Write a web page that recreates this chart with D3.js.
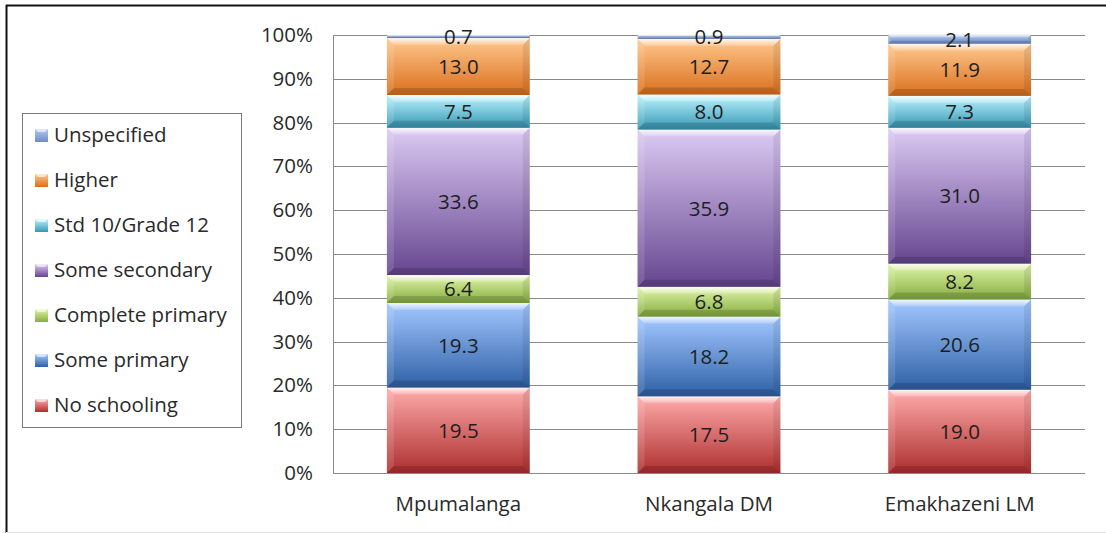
<!DOCTYPE html>
<html>
<head>
<meta charset="utf-8">
<script src="https://cdn.jsdelivr.net/npm/d3@7"></script>
<style>
  html, body { margin: 0; padding: 0; background: #fff; }
  svg { display: block; font-family: "Open Sans", sans-serif; }
</style>
</head>
<body>
<svg id="chart" width="1106" height="533"></svg>
<script>
// Education level shares (%) by area
const categories = ["Mpumalanga", "Nkangala DM", "Emakhazeni LM"];
const seriesNames = ["No schooling", "Some primary", "Complete primary", "Some secondary",
                     "Std 10/Grade 12", "Higher", "Unspecified"];
const noSchooling      = [19.5, 17.5, 19.0];
const somePrimary      = [19.3, 18.2, 20.6];
const completePrimary  = [6.4, 6.8, 8.2];
const someSecondary    = [33.6, 35.9, 31.0];
const std10Grade12     = [7.5, 8.0, 7.3];
const higher           = [13.0, 12.7, 11.9];
const unspecified      = [0.7, 0.9, 2.1];
const yTicks = [0, 10, 20, 30, 40, 50, 60, 70, 80, 90, 100];

const seriesValues = [noSchooling, somePrimary, completePrimary, someSecondary,
                      std10Grade12, higher, unspecified];

// top / bottom gradient colours for each series
const palette = [
  ["#ffabab", "#ad2f2e"],
  ["#a3c8ff", "#2e60a6"],
  ["#e0f5aa", "#86ad3f"],
  ["#dccaf3", "#65458f"],
  ["#bdf4ff", "#3597b4"],
  ["#ffc88e", "#d96f1c"],
  ["#b3c8ec", "#6d8dc4"]
];

const FONT = "'Open Sans', sans-serif";
const FS = 20.5;

const table = categories.map((c, i) => {
  const row = { category: c };
  seriesNames.forEach((s, j) => row[s] = seriesValues[j][i]);
  return row;
});

const svg = d3.select("#chart");
const defs = svg.append("defs");

palette.forEach((p, j) => {
  const g = defs.append("linearGradient").attr("id", "grad" + j)
    .attr("x1", 0).attr("y1", 0).attr("x2", 0).attr("y2", 1);
  g.append("stop").attr("offset", "0%").attr("stop-color", p[0]);
  g.append("stop").attr("offset", "100%").attr("stop-color", p[1]);
});
const hl = defs.append("linearGradient").attr("id", "hilite")
  .attr("x1", 0).attr("y1", 0).attr("x2", 0).attr("y2", 1);
hl.append("stop").attr("offset", "0%").attr("stop-color", "#fff").attr("stop-opacity", 0.85);
hl.append("stop").attr("offset", "100%").attr("stop-color", "#fff").attr("stop-opacity", 0.15);

// outer frame
svg.append("line").attr("x1", 6).attr("x2", 1106).attr("y1", 5.5).attr("y2", 5.5)
  .attr("stroke", "#111").attr("stroke-width", 2);
svg.append("line").attr("x1", 6.5).attr("x2", 6.5).attr("y1", 5).attr("y2", 533)
  .attr("stroke", "#111").attr("stroke-width", 2);
svg.append("line").attr("x1", 6).attr("x2", 1106).attr("y1", 532.5).attr("y2", 532.5)
  .attr("stroke", "#e4e4e4").attr("stroke-width", 1);

const plot = { left: 333, right: 1085, top: 35, bottom: 473 };

const x = d3.scaleBand().domain(categories)
  .range([plot.left, plot.right]).paddingInner(0.43).paddingOuter(0.215);
const y = d3.scaleLinear().domain([0, 100]).range([plot.bottom, plot.top]);

// gridlines
svg.append("g").selectAll("line").data(yTicks).join("line")
  .attr("x1", plot.left).attr("x2", plot.right)
  .attr("y1", d => Math.round(y(d)) + 0.5).attr("y2", d => Math.round(y(d)) + 0.5)
  .attr("stroke", "#8a8a8a").attr("stroke-width", 1);
svg.append("line").attr("x1", plot.left + 0.5).attr("x2", plot.left + 0.5)
  .attr("y1", plot.top).attr("y2", plot.bottom + 0.5)
  .attr("stroke", "#8a8a8a");

// y axis labels
const yAxis = d3.axisLeft(y).tickValues(yTicks).tickFormat(d => d + "%").tickSize(0).tickPadding(20);
const yg = svg.append("g").attr("transform", `translate(${plot.left},0)`).call(yAxis);
yg.select(".domain").remove();
yg.selectAll("text").attr("font-family", FONT).attr("font-size", FS)
  .attr("fill", "#2a2a2a");

// x axis labels
const xAxis = d3.axisBottom(x).tickSize(0).tickPadding(0);
const xg = svg.append("g").attr("transform", `translate(0,${plot.bottom + 23})`).call(xAxis);
xg.select(".domain").remove();
xg.selectAll("text").attr("font-family", FONT).attr("font-size", FS)
  .attr("fill", "#2a2a2a");

// stacked bars
const stacked = d3.stack().keys(seriesNames)(table);
const layers = svg.append("g").selectAll("g").data(stacked).join("g");

layers.each(function(layer, j) {
  const g = d3.select(this);
  layer.forEach(seg => {
    const x0 = x(seg.data.category), w = x.bandwidth();
    const yTop = y(Math.min(seg[1], 100.4)), yBot = y(seg[0]);
    const h = yBot - yTop;
    g.append("rect").attr("x", x0).attr("y", yTop).attr("width", w).attr("height", h)
      .attr("fill", `url(#grad${j})`);
    const b = Math.min(7, h / 3);
    // bevel highlight along top edge
    g.append("path")
      .attr("d", `M${x0},${yTop}H${x0 + w}L${x0 + w - b},${yTop + b}H${x0 + b}Z`)
      .attr("fill", "url(#hilite)");
    // darker side edges and bottom edge
    g.append("path")
      .attr("d", `M${x0 + w},${yTop}V${yBot}L${x0 + w - b},${yBot - b}V${yTop + b}Z`)
      .attr("fill", "#000").attr("opacity", 0.08);
    g.append("path")
      .attr("d", `M${x0},${yTop}V${yBot}L${x0 + b},${yBot - b}V${yTop + b}Z`)
      .attr("fill", "#fff").attr("opacity", 0.12);
    g.append("path")
      .attr("d", `M${x0},${yBot}H${x0 + w}L${x0 + w - b},${yBot - b}H${x0 + b}Z`)
      .attr("fill", "#000").attr("opacity", 0.15);
    // value label
    g.append("text")
      .attr("x", x0 + w / 2).attr("y", (yTop + yBot) / 2)
      .attr("dy", "0.36em").attr("text-anchor", "middle")
      .attr("font-family", FONT).attr("font-size", FS).attr("fill", "#1e1e1e")
      .text(d3.format(".1f")(seg[1] - seg[0]));
  });
});

// legend
const legend = svg.append("g");
legend.append("rect").attr("x", 22.5).attr("y", 113.5).attr("width", 219).attr("height", 314)
  .attr("fill", "#fff").attr("stroke", "#7a7a7a");
const legendOrder = seriesNames.map((s, j) => ({ s, j })).reverse();
const li = legend.selectAll("g.item").data(legendOrder).join("g")
  .attr("class", "item")
  .attr("transform", (d, i) => `translate(35,${135 + i * 45})`);
li.append("rect").attr("x", 0).attr("y", -6).attr("width", 13).attr("height", 13)
  .attr("fill", d => `url(#grad${d.j})`);
li.append("path").attr("d", "M0,-6H13L10,-3H3Z").attr("fill", "#fff").attr("opacity", 0.6);
li.append("text").attr("x", 19).attr("y", 0).attr("dy", "0.36em")
  .attr("font-family", FONT).attr("font-size", FS).attr("fill", "#2a2a2a")
  .text(d => d.s);
</script>
</body>
</html>
